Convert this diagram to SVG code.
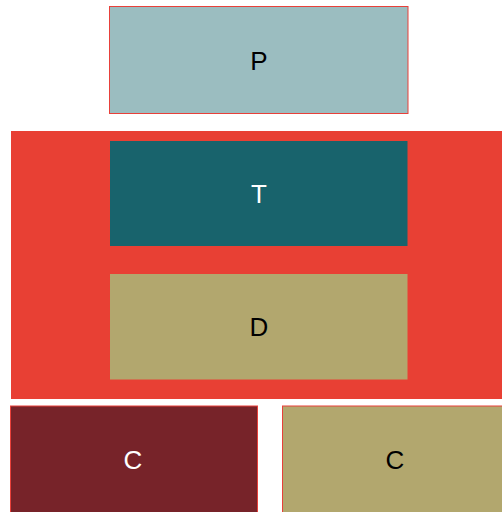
<svg xmlns="http://www.w3.org/2000/svg" width="502" height="512" viewBox="0 0 502 512">
<style>
.lbl{font-family:"Liberation Sans",Arial,sans-serif;font-size:26px;text-anchor:middle;dominant-baseline:central}
.dark{fill:#000}
.light{fill:#fff}
.bd{stroke:#e8403a;stroke-width:1}
</style>
<rect width="502" height="512" fill="#fff"/>
<g id="container">
<rect x="11" y="131" width="491" height="268" fill="#e84034"/>
</g>
<g id="P">
<rect x="109.5" y="6.5" width="298.5" height="107" fill="#9bbdc0" class="bd"/>
<text x="259" y="61" class="lbl dark">P</text>
</g>
<g id="T">
<rect x="110" y="141" width="297.5" height="105" fill="#18636c"/>
<text x="259" y="194" class="lbl light">T</text>
</g>
<g id="D">
<rect x="110" y="274" width="297.5" height="105.5" fill="#b2a76e"/>
<text x="259" y="327" class="lbl dark">D</text>
</g>
<g id="C1">
<rect x="10.5" y="406" width="247" height="110" fill="#772329" class="bd"/>
<text x="133" y="460" class="lbl light">C</text>
</g>
<g id="C2">
<rect x="282.5" y="406" width="224" height="110" fill="#b2a76e" class="bd"/>
<text x="395" y="460" class="lbl dark">C</text>
</g>
<g id="connectors"></g>
</svg>
